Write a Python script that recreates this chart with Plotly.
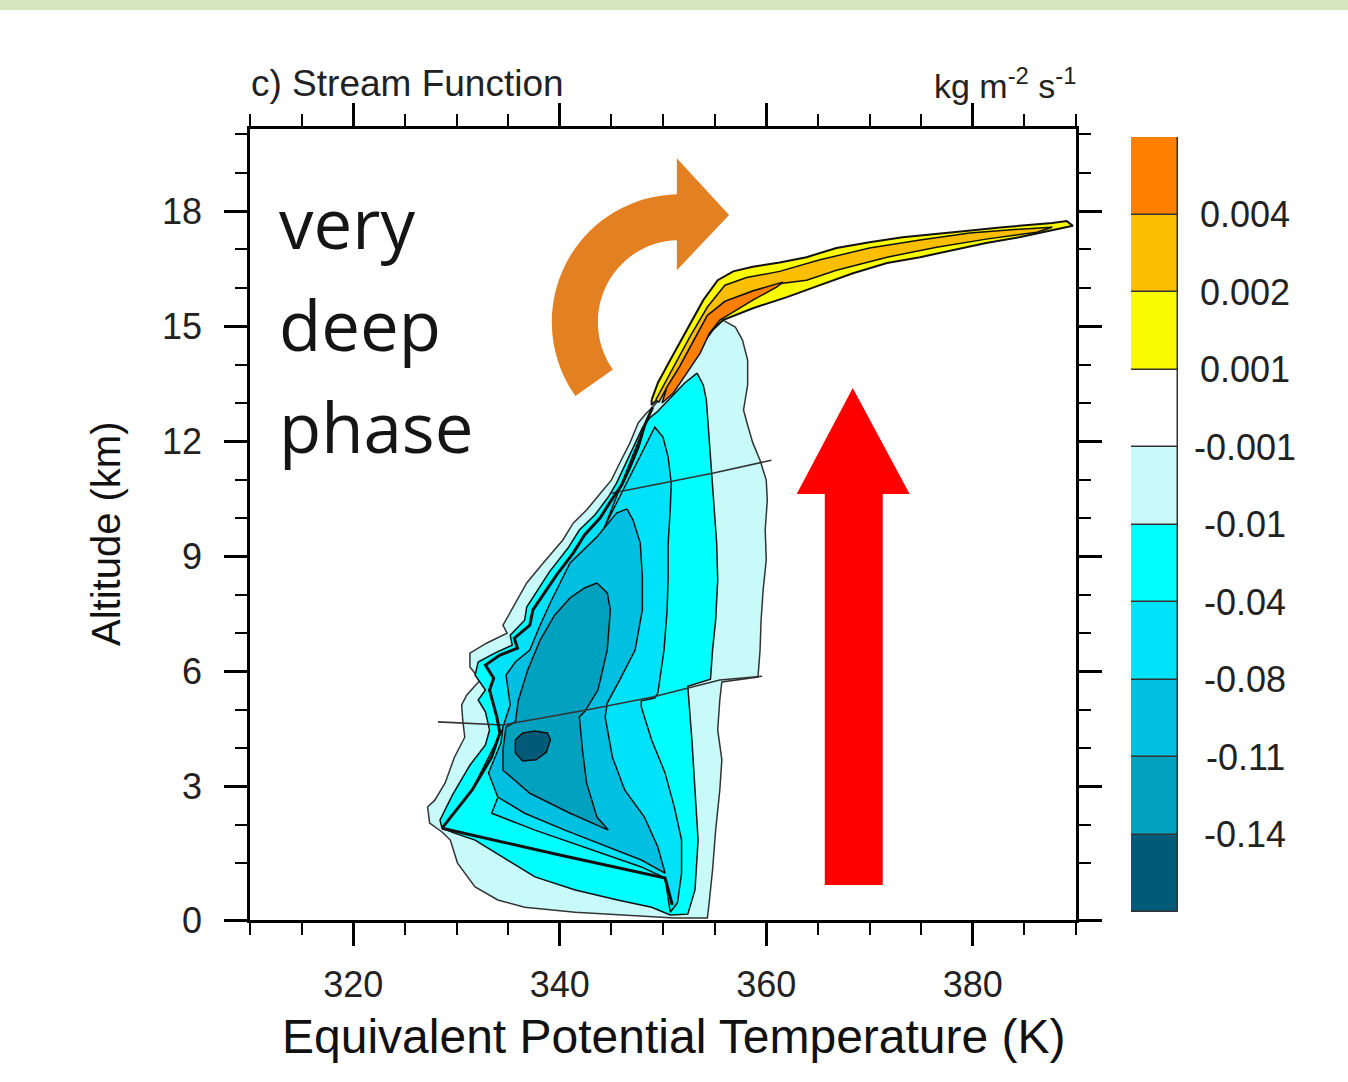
import plotly.graph_objects as go

# ---------------- data (theta in K, altitude in km) ----------------
LEVEL_LABELS = ["-0.14", "-0.11", "-0.08", "-0.04", "-0.01", "-0.001", "0.001", "0.002", "0.004"]
LEVEL_COLORS = ["#005A78", "#00A0BF", "#00BFE0", "#00E1FA", "#00FFFF",
                "#C8FAFA", "#FFFFFF", "#FAFA00", "#FBBE00", "#FF8000"]

X_MAJOR = [320, 340, 360, 380]
X_MINOR = [310, 315, 325, 330, 335, 345, 350, 355, 365, 370, 375, 385, 390]
Y_LABELS = ["0", "3", "6", "9", "12", "15", "18"]
Y_MAJOR = [-0.473, 3, 6, 9, 12, 15, 18]
Y_MINOR = [1, 2, 4, 5, 7, 8, 10, 11, 13, 14, 16, 17, 19, 20]

# psi < -0.001 envelope
NEG_001 = [(355.8, 15.16), (357.0, 14.98), (357.7, 14.64), (358.2, 14.12), (358.2, 13.47), (357.8, 12.82),
           (358.2, 12.42), (358.7, 11.96), (359.4, 11.51), (360.0, 10.99), (360.1, 10.47), (359.9, 9.69),
           (360.0, 8.91), (359.7, 8.13), (359.5, 7.34), (359.4, 6.56), (359.2, 5.86), (355.7, 5.73),
           (355.5, 5.26), (355.3, 4.48), (355.7, 3.70), (355.5, 2.91), (355.1, 1.87), (354.8, 0.83),
           (354.5, 0.05), (354.3, -0.42), (351.1, -0.42), (346.3, -0.34), (341.5, -0.27), (336.6, -0.14),
           (334.0, 0.05), (331.8, 0.39), (330.1, 1.01), (329.4, 1.61), (328.6, 1.82), (327.4, 2.05),
           (327.2, 2.47), (327.9, 2.65), (328.9, 3.10), (329.8, 3.77), (330.8, 4.29), (330.6, 4.74),
           (330.5, 5.13), (331.0, 5.39), (332.3, 5.78), (331.3, 6.12), (331.3, 6.48), (332.9, 6.74),
           (334.9, 7.00), (334.5, 7.21), (335.7, 7.79), (336.8, 8.31), (338.4, 8.83), (340.3, 9.43),
           (341.3, 9.87), (342.6, 10.21), (344.2, 10.73), (345.0, 10.99), (345.8, 11.43), (346.8, 11.96),
           (347.6, 12.48), (348.4, 12.74), (349.0, 12.89), (350.7, 13.42), (352.3, 13.94), (353.6, 14.46),
           (354.8, 14.90)]

# psi < -0.01
NEG_01 = [(353.3, 13.78), (353.9, 13.47), (354.2, 13.08), (354.5, 11.96), (354.8, 10.65), (355.2, 9.35),
          (355.3, 8.39), (355.1, 7.34), (354.8, 6.56), (354.6, 5.80), (352.4, 5.62), (352.8, 4.22),
          (353.1, 2.91), (353.4, 1.61), (353.1, 0.31), (352.4, -0.32), (350.7, -0.34), (348.9, -0.14),
          (345.6, 0.05), (341.5, 0.31), (337.6, 0.65), (334.4, 1.17), (331.8, 1.61), (329.8, 1.79),
          (328.6, 1.92), (328.4, 2.13), (329.6, 2.78), (331.3, 3.56), (332.8, 4.09), (333.2, 4.48),
          (332.8, 4.95), (332.1, 5.26), (332.8, 5.52), (331.8, 5.91), (332.1, 6.25), (333.7, 6.48),
          (335.4, 6.69), (335.2, 6.95), (336.6, 7.34), (336.8, 7.68), (337.9, 8.13), (339.0, 8.60),
          (340.8, 9.22), (341.9, 9.69), (343.4, 10.08), (344.7, 10.55), (345.5, 10.91), (346.3, 11.38),
          (347.2, 11.90), (348.0, 12.35), (348.7, 12.61), (349.4, 12.76), (350.9, 13.18), (352.1, 13.52)]

# thick front line on the cold side (bottom to top)
DIAGONAL = [(328.6, 1.92), (331.5, 2.91), (333.4, 3.77), (334.2, 4.40), (333.9, 4.82), (333.6, 5.13),
            (333.2, 5.52), (333.6, 5.83), (332.8, 6.17), (334.2, 6.43), (335.9, 6.61), (335.6, 6.87),
            (337.1, 7.21), (337.4, 7.61), (338.6, 8.08), (339.7, 8.52), (341.3, 9.09), (342.4, 9.56),
            (343.9, 10.00), (345.0, 10.47), (346.0, 10.86), (346.8, 11.33), (347.6, 11.85), (348.2, 12.40),
            (349.0, 12.89)]

# psi < -0.04 : right boundary (top to bottom) and lower boundary (right to left)
NEG_04_RIGHT = [(349.2, 12.37), (350.0, 12.11), (350.5, 11.59), (350.8, 10.91), (350.7, 10.21), (350.5, 9.35),
                (350.5, 8.47), (350.4, 7.61), (350.1, 6.56), (349.5, 5.44), (349.2, 5.31), (347.9, 5.24),
                (347.9, 5.08), (348.9, 4.22), (350.2, 3.36), (351.1, 2.47), (351.8, 1.61), (351.8, 0.75),
                (351.4, -0.03), (350.7, -0.27)]
NEG_04_LOWER = [(350.2, 0.62), (347.9, 0.91), (343.1, 1.35), (337.6, 1.87), (333.4, 2.31)]

# psi < -0.08
NEG_08 = [(346.5, 10.24), (347.1, 9.95), (347.8, 9.35), (348.0, 8.47), (348.0, 7.61), (347.3, 6.56),
          (345.8, 5.78), (344.6, 5.18), (344.4, 4.82), (345.1, 3.77), (346.3, 2.91), (348.2, 2.21),
          (349.5, 1.43), (350.2, 0.75), (347.9, 1.09), (344.7, 1.43), (340.5, 1.87), (336.6, 2.31),
          (334.0, 2.73), (333.1, 3.36), (334.3, 4.14), (334.5, 4.56), (335.2, 5.13), (335.0, 5.52),
          (334.8, 5.91), (335.7, 6.25), (337.1, 6.56), (338.1, 7.21), (339.2, 7.86), (341.0, 8.83),
          (343.6, 9.51), (345.5, 10.13)]

# psi < -0.11
NEG_11 = [(343.6, 8.31), (344.6, 8.05), (344.9, 7.61), (344.6, 6.56), (343.7, 5.52), (342.4, 4.95),
          (341.9, 4.82), (342.2, 3.96), (342.6, 3.10), (343.6, 2.21), (344.7, 1.87), (341.0, 2.31),
          (337.1, 2.83), (334.5, 3.43), (334.5, 3.96), (334.8, 4.56), (335.7, 4.69), (336.0, 5.26),
          (336.9, 6.04), (338.1, 6.82), (339.5, 7.47), (341.0, 7.92), (342.4, 8.18)]

# psi < -0.14
NEG_14 = [(335.7, 4.22), (336.4, 4.40), (337.6, 4.45), (338.8, 4.40), (339.1, 4.22), (338.7, 3.90),
          (337.7, 3.70), (336.4, 3.67), (335.7, 3.88)]

# positive tongue: psi > 0.001, > 0.002, > 0.004
POS_001 = [(348.9, 13.08), (349.5, 13.52), (350.7, 14.12), (352.3, 14.90), (353.9, 15.68), (355.3, 16.20),
           (356.8, 16.43), (358.7, 16.55), (361.3, 16.66), (363.9, 16.80), (366.8, 17.04), (370.0, 17.19),
           (373.2, 17.32), (378.1, 17.45), (382.9, 17.58), (387.7, 17.69), (389.1, 17.74), (389.7, 17.62),
           (387.7, 17.51), (384.5, 17.32), (381.3, 17.17), (378.1, 16.98), (374.9, 16.80), (371.7, 16.65),
           (368.4, 16.38), (365.2, 16.07), (362.0, 15.76), (358.7, 15.47), (357.1, 15.29), (355.8, 15.16),
           (354.8, 14.90), (353.6, 14.46), (352.3, 13.94), (350.7, 13.42), (348.9, 12.95)]
POS_002 = [(349.3, 13.08), (351.0, 13.94), (352.6, 14.72), (354.3, 15.50), (356.0, 16.07), (358.1, 16.27),
           (361.3, 16.43), (365.2, 16.73), (370.0, 17.04), (374.9, 17.25), (379.7, 17.43), (384.5, 17.53),
           (387.7, 17.58), (386.2, 17.45), (381.3, 17.27), (376.5, 17.06), (371.7, 16.80), (366.8, 16.46),
           (363.9, 16.20), (361.6, 16.12), (358.7, 15.92), (356.0, 15.65), (354.3, 15.28), (353.0, 14.64),
           (351.6, 13.94), (350.4, 13.42), (349.6, 13.02)]
POS_004 = [(350.4, 13.42), (351.6, 13.94), (353.0, 14.64), (354.3, 15.28), (356.0, 15.65), (358.7, 15.92),
           (361.6, 16.15), (361.0, 16.02), (358.7, 15.68), (356.8, 15.37), (355.5, 15.16), (354.5, 14.82),
           (353.6, 14.30), (352.3, 13.78), (351.0, 13.26), (349.9, 13.00)]

# thin grey section lines and thick lower front
LINE_UPPER = [(345.0, 10.65), (350.0, 10.91), (354.8, 11.17), (360.5, 11.51)]
LINE_LOWER = [(328.2, 4.69), (334.5, 4.61), (342.6, 5.00), (349.0, 5.34), (355.5, 5.78), (359.6, 5.88)]
LINE_BOTTOM = [(328.6, 1.92), (340.0, 1.22), (350.2, 0.62), (350.9, -0.08)]

# ---------------- decorations (arrow outlines, in axis units) ----------------
RED_ARROW = [(365.67, 0.44), (371.28, 0.44), (371.28, 10.63), (373.89, 10.63), (368.38, 13.39),
             (362.95, 10.63), (365.67, 10.63)]
ORANGE_ARROW_PATH = (
    "M 341.51,13.18 C 338.87,14.19 338.49,15.50 340.55,16.61 "
    "C 342.62,17.71 346.77,18.41 351.34,18.44 "
    "L 351.34,19.38 L 356.40,17.90 L 351.34,16.46 L 351.34,17.24 "
    "C 348.51,17.23 345.85,16.77 344.53,16.07 "
    "C 343.22,15.36 343.46,14.52 345.15,13.87 Z"
)

W, H = 1348, 1082
FONT = "Liberation Sans"


def xs(pts, close=True):
    v = [p[0] for p in pts]
    return v + [v[0]] if close else v


def ys(pts, close=True):
    v = [p[1] for p in pts]
    return v + [v[0]] if close else v


def fill_trace(pts, color, lw=1.5, lc="#111111"):
    return go.Scatter(x=xs(pts), y=ys(pts), mode="lines", fill="toself", fillcolor=color,
                      line=dict(color=lc, width=lw), hoverinfo="skip", showlegend=False)


def line_trace(pts, color, lw):
    return go.Scatter(x=xs(pts, False), y=ys(pts, False), mode="lines",
                      line=dict(color=color, width=lw), hoverinfo="skip", showlegend=False)


def path_of(pts):
    return "M " + " L ".join(f"{a},{b}" for a, b in pts) + " Z"


fig = go.Figure()

neg_04 = list(reversed(DIAGONAL[1:24])) + NEG_04_RIGHT + NEG_04_LOWER
fig.add_trace(fill_trace(NEG_001, LEVEL_COLORS[5], lc="#333333"))
fig.add_trace(fill_trace(NEG_01, LEVEL_COLORS[4]))
fig.add_trace(fill_trace(neg_04, LEVEL_COLORS[3]))
fig.add_trace(fill_trace(NEG_08, LEVEL_COLORS[2]))
fig.add_trace(fill_trace(NEG_11, LEVEL_COLORS[1]))
fig.add_trace(fill_trace(NEG_14, LEVEL_COLORS[0]))
fig.add_trace(line_trace(LINE_UPPER, "#333333", 1.6))
fig.add_trace(line_trace(LINE_LOWER, "#333333", 1.6))
fig.add_trace(line_trace(LINE_BOTTOM, "#111111", 3))
fig.add_trace(line_trace(DIAGONAL, "#111111", 3))
fig.add_trace(fill_trace(POS_001, LEVEL_COLORS[7], lw=2))
fig.add_trace(fill_trace(POS_002, LEVEL_COLORS[8]))
fig.add_trace(fill_trace(POS_004, LEVEL_COLORS[9]))

# label bar
fig.add_trace(go.Bar(x=[0.5] * 10, y=[1] * 10, base=list(range(10)), width=1,
                     marker=dict(color=LEVEL_COLORS, line=dict(color="#333333", width=1.5)),
                     xaxis="x2", yaxis="y2", hoverinfo="skip", showlegend=False))

axis_common = dict(showline=True, linecolor="black", linewidth=2.5, mirror="allticks",
                   ticks="outside", ticklen=23, tickwidth=2.5, tickcolor="black", automargin=False,
                   showgrid=False, zeroline=False, tickfont=dict(family=FONT, size=36, color="#222222"))

fig.update_layout(
    width=W, height=H, autosize=False, margin=dict(l=0, r=0, t=0, b=0, autoexpand=False),
    paper_bgcolor="white", plot_bgcolor="white", showlegend=False,
    font=dict(family=FONT, color="black"),
    xaxis=dict(domain=[250 / W, 1076 / W], range=[310, 390], tickmode="array", tickvals=X_MAJOR,
               ticklabelstandoff=8,
               minor=dict(tickmode="array", tickvals=X_MINOR, ticks="outside", ticklen=12,
                          tickwidth=2, tickcolor="black"),
               **axis_common),
    yaxis=dict(domain=[(H - 920) / H, (H - 129) / H], range=[Y_MAJOR[0], 20.14], tickmode="array",
               tickvals=Y_MAJOR, ticktext=Y_LABELS, ticklabelstandoff=15,
               minor=dict(tickmode="array", tickvals=Y_MINOR, ticks="outside", ticklen=12,
                          tickwidth=2, tickcolor="black"),
               **axis_common),
    xaxis2=dict(domain=[1131 / W, 1178 / W], range=[0, 1], visible=False, anchor="y2", automargin=False),
    yaxis2=dict(domain=[(H - 912) / H, (H - 137) / H], range=[0, 10], visible=False, anchor="x2",
                automargin=False),
    bargap=0,
)

shapes = [
    dict(type="rect", xref="paper", yref="paper", x0=0, x1=1, y0=1 - 10 / H, y1=1,
         fillcolor="#D5E6BF", line=dict(width=0), layer="below"),
    dict(type="path", xref="x", yref="y", path=path_of(RED_ARROW), fillcolor="#FF0000",
         line=dict(width=0)),
    dict(type="path", xref="x", yref="y", path=ORANGE_ARROW_PATH, fillcolor="#E38022",
         line=dict(width=0)),
]
fig.update_layout(shapes=shapes)

ann = []
for i, lab in enumerate(LEVEL_LABELS):
    ann.append(dict(x=1245 / W, xref="paper", y=i + 1, yref="y2", text=lab, showarrow=False,
                    xanchor="center", yanchor="middle", font=dict(family=FONT, size=36, color="#222222")))
ann += [
    dict(x=249 / W, y=1 - 84 / H, xref="paper", yref="paper", text="c) Stream Function", showarrow=False,
         xanchor="left", yanchor="middle", font=dict(family=FONT, size=37, color="#222222")),
    dict(x=1078 / W, y=1 - 84 / H, xref="paper", yref="paper",
         text="kg m<sup>-2</sup> s<sup>-1</sup>", showarrow=False,
         xanchor="right", yanchor="middle", font=dict(family=FONT, size=34, color="#222222")),
    dict(x=674 / W, y=1 - 1036 / H, xref="paper", yref="paper",
         text="Equivalent Potential Temperature (K)", showarrow=False,
         xanchor="center", yanchor="middle", font=dict(family=FONT, size=48, color="#111111")),
    dict(x=106 / W, y=1 - 534 / H, xref="paper", yref="paper", text="Altitude (km)", textangle=-90,
         showarrow=False, xanchor="center", yanchor="middle",
         font=dict(family=FONT, size=40, color="#111111")),
]
for word, base in [("very", 248), ("deep", 350), ("phase", 452)]:
    ann.append(dict(x=277 / W, y=1 - (base - 26) / H, xref="paper", yref="paper", text=word,
                    showarrow=False, xanchor="left", yanchor="middle",
                    font=dict(family="Open Sans", size=69, color="#151515")))
fig.update_layout(annotations=ann)

fig.write_html("out.html", config={"displayModeBar": False, "responsive": False},
               post_script="document.body.style.margin='0';")
